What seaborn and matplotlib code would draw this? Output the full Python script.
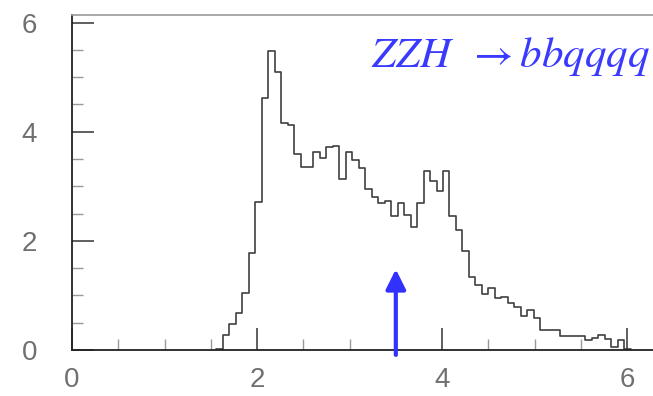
import matplotlib
matplotlib.use("Agg")
import matplotlib.pyplot as plt
from matplotlib.ticker import MultipleLocator
import numpy as np
import pandas as pd
import seaborn as sns

# histogram: regular bins starting at 1.56, width 0.07
bin_start = 1.56
bin_width = 0.07
heights = [0.02, 0.27, 0.47, 0.67, 1.05, 1.77, 2.72, 4.61, 5.48, 5.10,
           4.16, 4.12, 3.59, 3.36, 3.36, 3.63, 3.52, 3.72, 3.74, 3.13,
           3.63, 3.48, 3.33, 2.95, 2.80, 2.70, 2.73, 2.45, 2.69, 2.47,
           2.26, 2.69, 3.28, 3.10, 2.92, 3.28, 2.45, 2.20, 1.82, 1.34,
           1.19, 1.02, 1.13, 0.96, 0.98, 0.87, 0.78, 0.63, 0.74, 0.58,
           0.37, 0.37, 0.37, 0.26, 0.26, 0.26, 0.26, 0.18, 0.22, 0.27,
           0.21, 0.06, 0.18, 0.02]
cut_value = 3.5
cut_arrow_top = 1.48
x_ticks = [0, 2, 4, 6]
y_ticks = [0, 2, 4, 6]
label = r'$ZZH\;\;\rightarrow bbqqqq$'

edges = bin_start + bin_width * np.arange(len(heights) + 1)
df = pd.DataFrame({'x': (edges[:-1] + edges[1:]) / 2, 'w': heights})

sns.set_style("ticks")
plt.rcParams['font.family'] = ['Liberation Sans', 'DejaVu Sans']
plt.rcParams['mathtext.fontset'] = 'stix'

fig = plt.figure(figsize=(6.53, 3.96), dpi=100)
ax = fig.add_axes([0.1103, 0.1162, 0.8897, 0.846])

sns.histplot(data=df, x='x', weights='w', bins=list(edges), element='step', fill=False,
             color='#404040', linewidth=1.2, ax=ax)

# cut position arrow
ax.annotate('', xy=(cut_value, cut_arrow_top), xytext=(cut_value, -0.09),
            arrowprops=dict(arrowstyle='-|>', color='#3232ff', lw=3,
                            mutation_scale=30, shrinkA=0, shrinkB=0),
            annotation_clip=False)

ax.text(6.25, 5.19, label, color='#3a3aff', fontsize=31,
        ha='right', va='baseline')

ax.set_xlim(0, 6.28)
ax.set_ylim(0, 6.14)
ax.set_xticks(x_ticks)
ax.set_yticks(y_ticks)
ax.xaxis.set_minor_locator(MultipleLocator(0.5))
ax.yaxis.set_minor_locator(MultipleLocator(0.5))
ax.set_xlabel('')
ax.set_ylabel('')

ax.tick_params(which='major', direction='in', length=16, width=1.2, color='#444444',
               labelsize=20, labelcolor='#707070')
ax.tick_params(which='minor', direction='in', length=8, width=1, color='#999999')
ax.tick_params(axis='x', which='major', pad=12)
ax.tick_params(axis='y', which='major', pad=25)

ax.spines['right'].set_visible(False)
ax.spines['top'].set_color('#999999')
ax.spines['top'].set_linewidth(1.2)
ax.spines['left'].set_color('#222222')
ax.spines['bottom'].set_color('#222222')
ax.spines['left'].set_linewidth(1.3)
ax.spines['bottom'].set_linewidth(1.3)

fig.savefig('out.png', dpi=100)
